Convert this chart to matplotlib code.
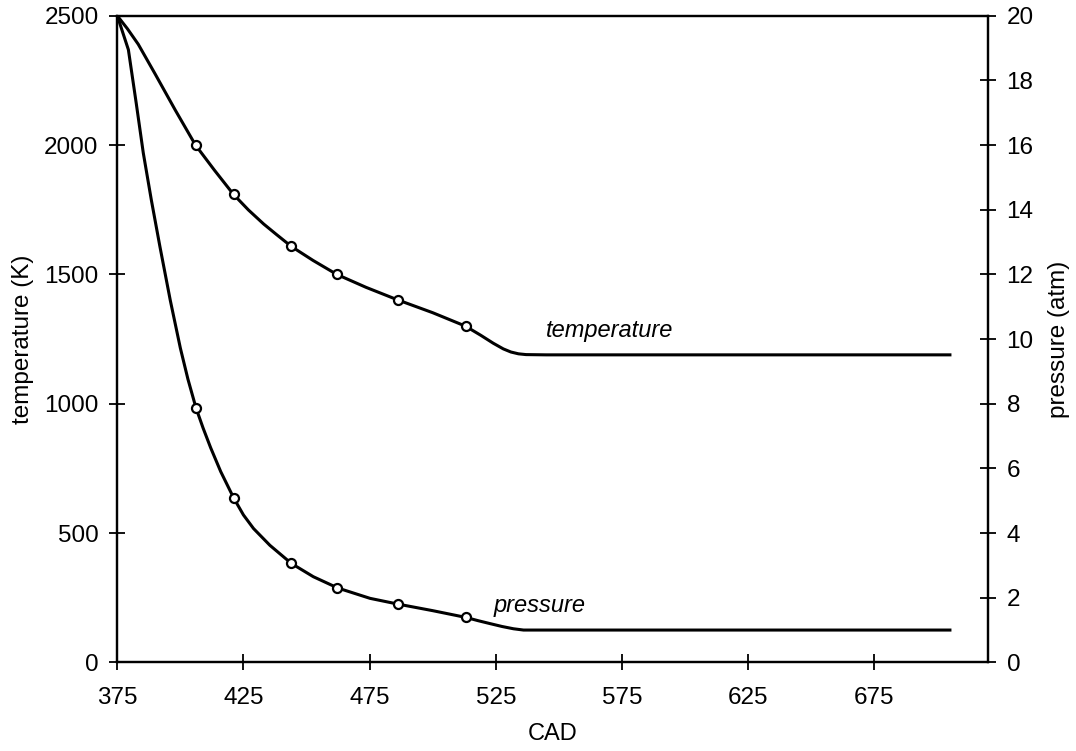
import matplotlib
matplotlib.use("Agg")
import matplotlib.pyplot as plt

plt.rcParams["font.family"] = ["Liberation Sans", "DejaVu Sans"]

# temperature trace (K) vs crank angle
cad_T = [375, 379, 383.3, 390, 398, 406, 413.5, 421, 427, 433, 438, 444,
         452.6, 462, 473.6, 486, 500, 513, 519, 524, 528, 531, 534, 537, 545, 705]
temp = [2500, 2450, 2390, 2275, 2135, 2000, 1903, 1810, 1749, 1695, 1655, 1608,
        1554, 1500, 1450, 1402, 1352, 1300, 1265, 1234, 1212, 1200, 1193, 1190, 1189, 1189]

# pressure trace (atm)
cad_P = [375, 379.4, 382.5, 385.3, 388.5, 391.9, 396, 400, 403, 406.2, 409, 412, 416, 421.1,
         425, 429, 435.5, 444, 452.7, 462.4, 475.2, 486.4, 500, 513.2,
         518, 522.7, 527.5, 532, 536, 705]
pres = [20, 18.95, 17.3, 15.76, 14.3, 12.86, 11.2, 9.72, 8.76, 7.87, 7.25, 6.64, 5.90, 5.09,
        4.56, 4.14, 3.62, 3.06, 2.65, 2.30, 1.98, 1.80, 1.60, 1.39,
        1.29, 1.20, 1.11, 1.04, 1.0, 1.0]

# computed points shown as open circles
cad_marks = [406.2, 421.1, 444, 462.2, 486.2, 513.1]
temp_marks = [2000, 1810, 1608, 1500, 1402, 1300]
pres_marks = [7.87, 5.09, 3.06, 2.30, 1.80, 1.39]

xticks = [375, 425, 475, 525, 575, 625, 675]
tticks = [0, 500, 1000, 1500, 2000, 2500]
pticks = list(range(0, 21, 2))

fig = plt.figure(figsize=(10.76, 7.51), dpi=100)
ax = fig.add_axes([0.109, 0.118, 0.809, 0.861])
ax2 = ax.twinx()

lw = 2.2
mk = dict(marker="o", linestyle="none", markersize=6.5, markerfacecolor="white",
          markeredgecolor="black", markeredgewidth=1.6, zorder=5)

ax.plot(cad_T, temp, color="black", linewidth=lw)
ax.plot(cad_marks, temp_marks, **mk)
ax2.plot(cad_P, pres, color="black", linewidth=lw)
ax2.plot(cad_marks, pres_marks, **mk)

ax.set_xlim(375, 720)
ax.set_ylim(0, 2500)
ax2.set_ylim(0, 20)
ax.set_xticks(xticks)
ax.set_yticks(tticks)
ax2.set_yticks(pticks)

for a in (ax, ax2):
    for s in a.spines.values():
        s.set_linewidth(1.6)
ax.tick_params(axis="x", direction="inout", length=11, width=1.3, pad=12, labelsize=17.5)
ax.tick_params(axis="y", direction="inout", length=11, width=1.3, pad=8, labelsize=17.5)
ax2.tick_params(axis="y", direction="inout", length=11, width=1.3, pad=8, labelsize=17.5)

ax.set_xlabel("CAD", fontsize=17, labelpad=10)
ax.set_ylabel("temperature (K)", fontsize=17.5, labelpad=7)
ax2.set_ylabel("pressure (atm)", fontsize=17.5, labelpad=10)

ax.text(570, 1285, "temperature", fontsize=17, style="italic",
        ha="center", va="center")
ax2.text(542.5, 1.77, "pressure", fontsize=17, style="italic",
         ha="center", va="center")

fig.savefig("out.png", dpi=100)
